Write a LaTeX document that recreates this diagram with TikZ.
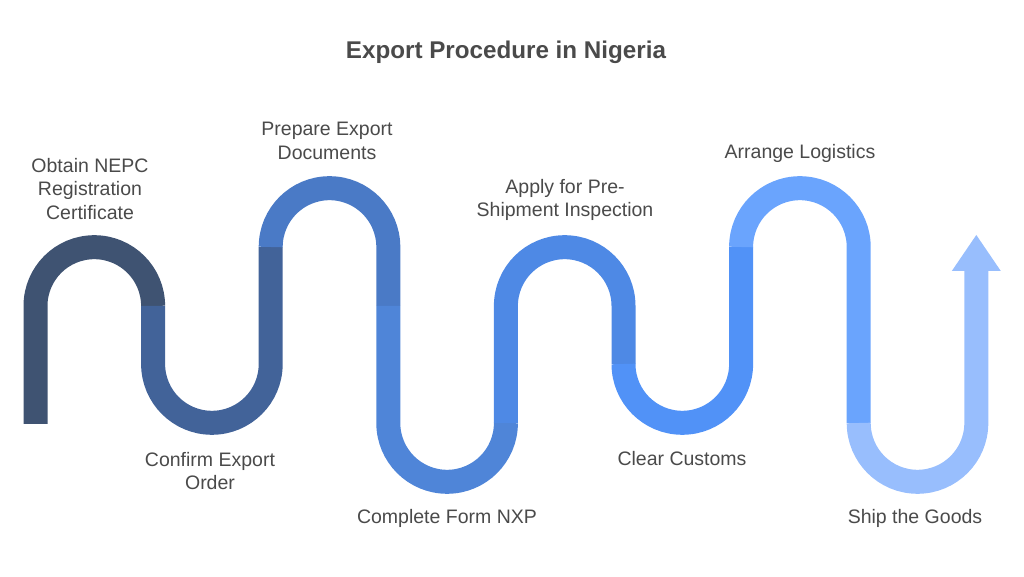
\documentclass[tikz,border=0pt]{standalone}
\usepackage{fontspec}
\setmainfont{Liberation Sans}
\usepackage{tikz}
\usetikzlibrary{calc}
\definecolor{stepA}{HTML}{3F5372}
\definecolor{stepB}{HTML}{426399}
\definecolor{stepC}{HTML}{4A7AC6}
\definecolor{stepD}{HTML}{4F85D8}
\definecolor{stepE}{HTML}{4E89E5}
\definecolor{stepF}{HTML}{5192F7}
\definecolor{stepG}{HTML}{6AA4FD}
\definecolor{stepH}{HTML}{98BEFD}
\definecolor{labelgray}{HTML}{4A4A4A}
\tikzset{
  band/.style={line width=24pt, line cap=butt},
  steplabel/.style={text=labelgray, align=center, inner sep=0pt, font=\fontsize{19.5}{23.5}\selectfont},
}
\def\rr{58.8}

\begin{document}
\begin{tikzpicture}[x=1pt, y=1pt]
			%%%%% START %%%%%
			\useasboundingbox (0, 0) rectangle (1024, 577);
			
			\node[text=labelgray, font=\fontsize{24.2}{28}\selectfont\bfseries] (title) at (506, 525) {Export Procedure in Nigeria};
			
			\draw[band, stepA] (35.5, 153) -- (35.5, 271) arc (180:0:\rr);
			\draw[band, stepB] (153.1, 271) -- (153.1, 213) arc (180:360:\rr) -- (270.7, 330);
			\draw[band, stepC] (270.7, 330) arc (180:0:\rr) -- (388.3, 271);
			\draw[band, stepD] (388.3, 271) -- (388.3, 154) arc (180:360:\rr);
			\draw[band, stepE] (505.9, 154) -- (505.9, 271) arc (180:0:\rr) -- (623.5, 213);
			\draw[band, stepF] (623.5, 213) arc (180:360:\rr) -- (741.1, 330);
			\draw[band, stepG] (741.1, 330) arc (180:0:\rr) -- (858.7, 154);
			\draw[band, stepH] (858.7, 154) arc (180:360:\rr) -- (976.3, 306);
			\fill[stepH] (951.8, 306) -- (1000.8, 306) -- (976.3, 342) -- cycle;
			
			\node[steplabel] (obtain) at (90, 388) {Obtain NEPC\\Registration\\Certificate};
			\node[steplabel] (confirm) at (210, 106) {Confirm Export\\Order};
			\node[steplabel] (prepare) at (327, 436) {Prepare Export\\Documents};
			\node[steplabel] (complete) at (447, 59) {Complete Form NXP};
			\node[steplabel] (apply) at (565, 377) {Apply for Pre-\\Shipment Inspection};
			\node[steplabel] (clear) at (682, 118) {Clear Customs};
			\node[steplabel] (arrange) at (800, 424) {Arrange Logistics};
			\node[steplabel] (ship) at (915, 59) {Ship the Goods};
			
			%%%%% END %%%%%
\end{tikzpicture}
\end{document}
